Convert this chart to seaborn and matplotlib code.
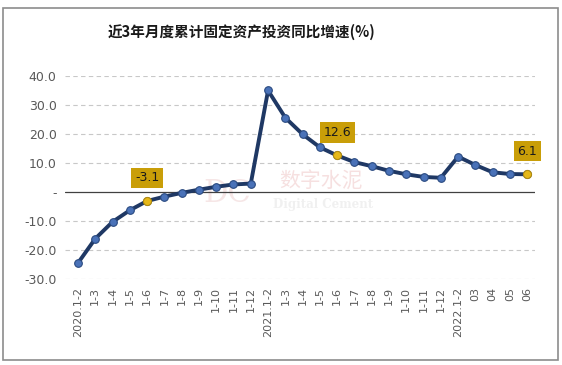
import numpy as np
import pandas as pd
import seaborn as sns
import matplotlib.pyplot as plt
from matplotlib.patches import Rectangle

# Monthly cumulative values.
labels = ['2020.1-2', '1-3', '1-4', '1-5', '1-6', '1-7', '1-8', '1-9', '1-10', '1-11', '1-12',
          '2021.1-2', '1-3', '1-4', '1-5', '1-6', '1-7', '1-8', '1-9', '1-10', '1-11', '1-12',
          '2022.1-2', '03', '04', '05', '06']
growth = [-24.5, -16.1, -10.3, -6.3, -3.1, -1.6, -0.3, 0.8, 1.8, 2.6, 2.9,
          35.0, 25.6, 19.9, 15.4, 12.6, 10.3, 8.9, 7.3, 6.1, 5.2, 4.9,
          12.2, 9.3, 6.8, 6.2, 6.1]
highlight = [4, 15, 26]
yticks = [-30, -20, -10, 0, 10, 20, 30, 40]
ytick_labels = ['-30.0', '-20.0', '-10.0', '-', '10.0', '20.0', '30.0', '40.0']

df = pd.DataFrame({'pos': np.arange(len(labels)), 'growth': growth})
hl = df.iloc[highlight]

sns.set_style('white')
plt.rcParams['font.family'] = ['Noto Sans CJK SC', 'DejaVu Sans']

fig = plt.figure(figsize=(5.62, 3.65), dpi=100)
ax = fig.add_axes([0.1157, 0.2356, 0.8363, 0.5562])

# outer chart frame
fig.patches.append(Rectangle((0.006, 0.014), 0.987, 0.965, transform=fig.transFigure,
                             fill=False, edgecolor='#8c8c8c', lw=1.2))

for y in yticks:
    if y != 0:
        ax.axhline(y, color='#c8c8c8', lw=0.8, ls=(0, (4, 3)), zorder=0)
ax.axhline(0, color='#404040', lw=0.9, zorder=1)

# faint watermark behind the data
ax.text(0.345, 0.42, 'DC', color='#f6e6e6', fontsize=22, family='DejaVu Serif',
        ha='center', va='center', transform=ax.transAxes, zorder=0)
ax.text(0.545, 0.483, '数字水泥', color='#f6e0e0', fontsize=15, ha='center', va='center',
        transform=ax.transAxes, zorder=0)
ax.text(0.55, 0.365, 'Digital Cement', color='#f0f0f0', fontsize=8.5, family='DejaVu Serif',
        weight='bold', ha='center', va='center', transform=ax.transAxes, zorder=0)

sns.lineplot(data=df, x='pos', y='growth', ax=ax, color='#1f3864', lw=2.8,
             marker='o', markersize=5.5, markerfacecolor='#4a72b8',
             markeredgecolor='#2a4a80', markeredgewidth=0.8, zorder=3)
sns.scatterplot(data=hl, x='pos', y='growth', ax=ax, color='#e6b818', s=34,
                edgecolor='#b08a10', linewidth=0.8, zorder=4)

for p, v in zip(hl['pos'], hl['growth']):
    ax.annotate(f'{v:.1f}', (p, v), xytext=(0, 12), textcoords='offset points',
                ha='center', va='bottom', fontsize=9, color='#1a1a1a',
                family='DejaVu Sans',
                bbox=dict(boxstyle='square,pad=0.3', fc='#c99e08', ec='none'), zorder=5)

ax.set_xlim(-0.75, 26.45)
ax.set_ylim(-30, 40)
ax.set_yticks(yticks)
ax.set_yticklabels(ytick_labels, fontsize=9, color='#595959', family='DejaVu Sans')
ax.set_xticks(df['pos'])
ax.set_xticklabels(labels, rotation=90, fontsize=8, color='#595959', family='DejaVu Sans')
ax.tick_params(length=0, pad=6)
ax.set_xlabel('')
ax.set_ylabel('')
sns.despine(ax=ax, left=True, bottom=True)

fig.text(0.429, 0.912, '近3年月度累计固定资产投资同比增速(%)', fontsize=10.5,
         weight='bold', ha='center', va='center', color='#1a1a1a')

fig.savefig('out.png', dpi=100)
